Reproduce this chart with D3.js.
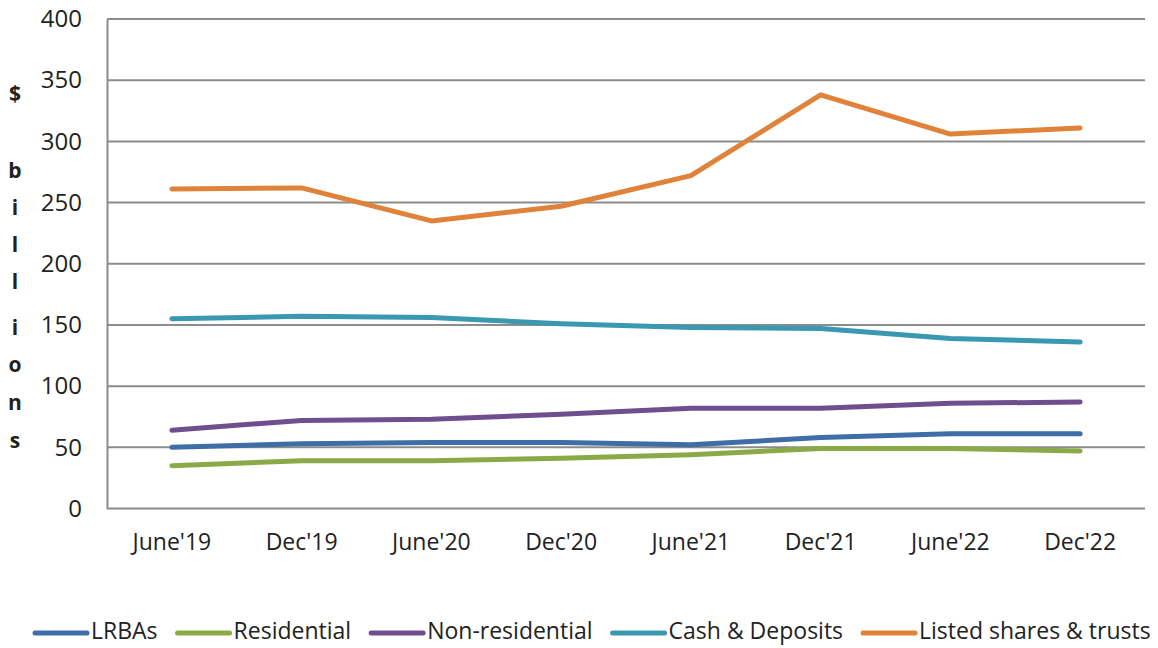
<!DOCTYPE html>
<html>
<head>
<meta charset="utf-8">
<script src="https://cdn.jsdelivr.net/npm/d3@7"></script>
<style>
  body { margin: 0; background: #fff; }
  text { font-family: "Open Sans", "Noto Sans", sans-serif; fill: #222; }
</style>
</head>
<body>
<div class="o"></div>
<script>
const periods = ["June'19", "Dec'19", "June'20", "Dec'20", "June'21", "Dec'21", "June'22", "Dec'22"]
const lrbas = [50, 53, 54, 54, 52, 58, 61, 61]
const residential = [35, 39, 39, 41, 44, 49, 49, 47]
const nonResidential = [64, 72, 73, 77, 82, 82, 86, 87]
const cashDeposits = [155, 157, 156, 151, 148, 147, 139, 136]
const listedShares = [261, 262, 235, 247, 272, 338, 306, 311]
const seriesNames = ["LRBAs", "Residential", "Non-residential", "Cash & Deposits", "Listed shares & trusts"]
const seriesColors = ["#3E6DA8", "#8AAA47", "#6E4E8F", "#3A98B0", "#E0823A"]
const yTicks = [0, 50, 100, 150, 200, 250, 300, 350, 400]

const width = 1158, height = 648
const margin = {top: 19, right: 13, bottom: 140, left: 107}

const svg = d3.select(".o").append("svg")
  .attr("width", width)
  .attr("height", height)

const series = [lrbas, residential, nonResidential, cashDeposits, listedShares]
  .map((values, i) => ({name: seriesNames[i], color: seriesColors[i], values}))

const xScale = d3.scaleBand()
  .domain(periods)
  .range([margin.left, width - margin.right])

const yScale = d3.scaleLinear()
  .domain([0, 400])
  .range([height - margin.bottom + 0.5, margin.top])

// gridlines
svg.append("g")
  .selectAll("line")
  .data(yTicks)
  .join("line")
    .attr("x1", margin.left)
    .attr("x2", width - margin.right)
    .attr("y1", d => yScale(d))
    .attr("y2", d => yScale(d))
    .attr("stroke", "#8c8c8c")
    .attr("stroke-width", 2)

// y axis
const yAxis = svg.append("g")
  .attr("transform", `translate(${margin.left},0)`)
  .call(d3.axisLeft(yScale).tickValues(yTicks).tickSize(0).tickPadding(25))
yAxis.select(".domain").attr("stroke", "#8c8c8c").attr("stroke-width", 2)
yAxis.selectAll("text")
  .style("font-size", "24px")
  .style("font-family", "'Open Sans', sans-serif")
  .attr("fill", "#222")

// x axis
const xAxis = svg.append("g")
  .attr("transform", `translate(0,${yScale(0)})`)
  .call(d3.axisBottom(xScale).tickSize(0).tickPadding(25))
xAxis.select(".domain").remove()
xAxis.selectAll("text")
  .style("font-size", "23px")
  .style("font-family", "'Open Sans', sans-serif")
  .attr("fill", "#222")

// y label, letters stacked
const labelLetters = [["$", 95], ["b", 172], ["i", 209], ["l", 246], ["l", 283], ["i", 329], ["o", 366], ["n", 404], ["s", 442]]
svg.append("g")
  .selectAll("text")
  .data(labelLetters)
  .join("text")
    .attr("x", 15)
    .attr("y", d => d[1])
    .attr("text-anchor", "middle")
    .attr("dominant-baseline", "middle")
    .style("font-size", "21px")
    .style("font-weight", "bold")
    .text(d => d[0])

// lines
const line = d3.line()
  .x((d, i) => xScale(periods[i]) + xScale.bandwidth() / 2)
  .y(d => yScale(d))

svg.append("g")
  .selectAll("path")
  .data(series)
  .join("path")
    .attr("d", d => line(d.values))
    .attr("fill", "none")
    .attr("stroke", d => d.color)
    .attr("stroke-width", 5)
    .attr("stroke-linecap", "round")
    .attr("stroke-linejoin", "round")

// legend, laid out left to right
const legend = svg.append("g")
  .selectAll("g")
  .data(series)
  .join("g")
legend.append("line")
  .attr("x1", 0).attr("x2", 52)
  .attr("stroke", d => d.color)
  .attr("stroke-width", 5)
  .attr("stroke-linecap", "round")
legend.append("text")
  .attr("x", 56)
  .attr("dominant-baseline", "middle")
  .style("font-size", "23px")
  .text(d => d.name)

let lx = 35
legend.each(function() {
  const g = d3.select(this)
  g.attr("transform", `translate(${lx},633)`)
  lx += 56 + g.select("text").node().getComputedTextLength() + 20
})
</script>
</body>
</html>
